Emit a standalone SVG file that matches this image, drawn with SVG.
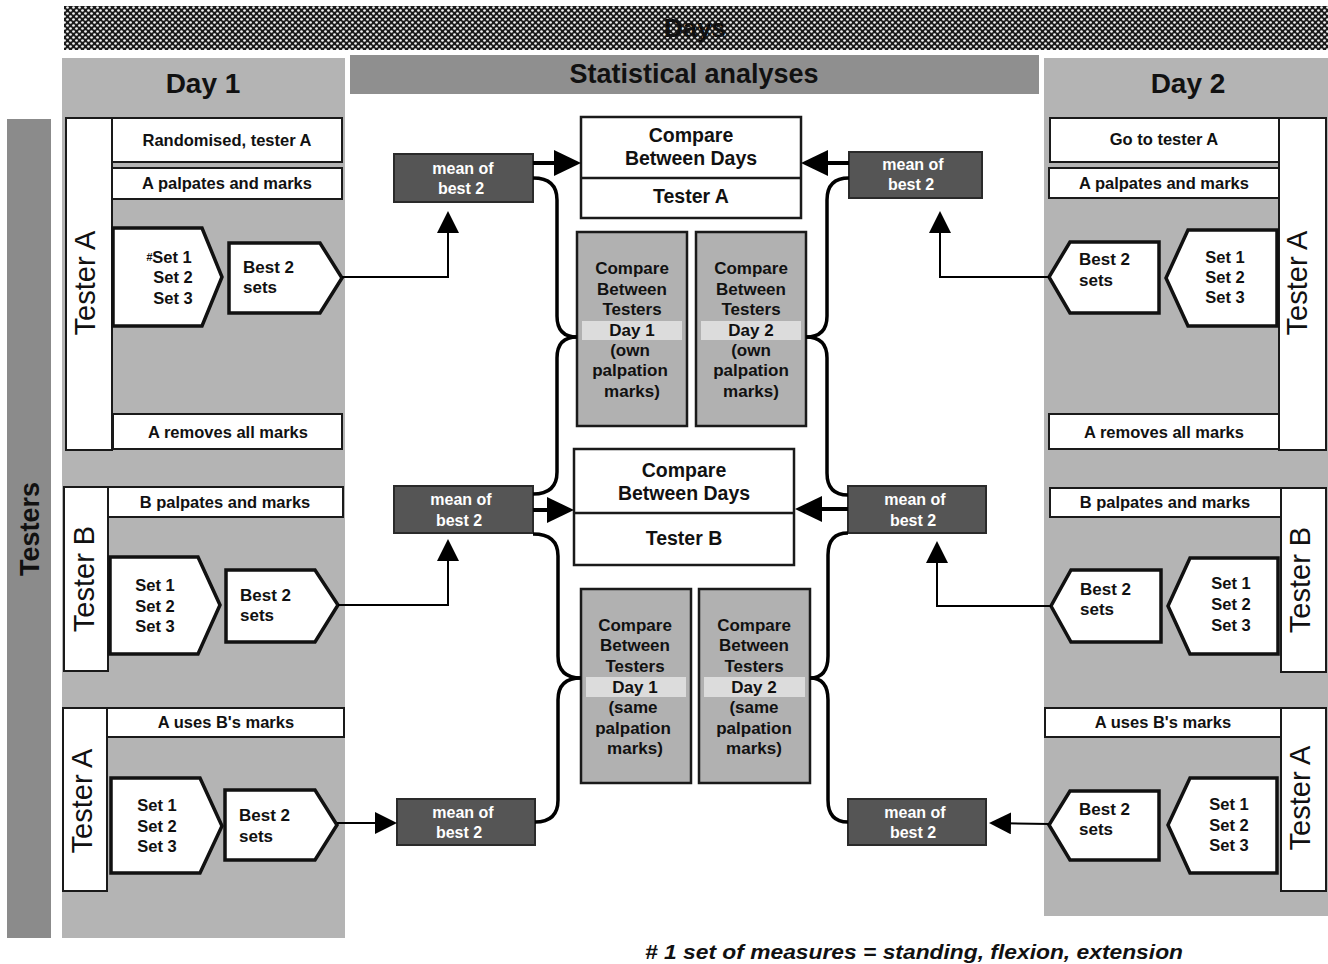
<svg xmlns="http://www.w3.org/2000/svg" width="1328" height="964" viewBox="0 0 1328 964">
<defs>
  <pattern id="mesh" patternUnits="userSpaceOnUse" width="6" height="6">
    <rect width="6" height="6" fill="#1a1a1a"/>
    <circle cx="1.5" cy="1.5" r="1.35" fill="#f2f2f2"/>
    <circle cx="4.5" cy="4.5" r="1.35" fill="#f2f2f2"/>
  </pattern>
  <marker id="ahBig" markerUnits="userSpaceOnUse" markerWidth="27" markerHeight="26" viewBox="0 0 27 26" refX="20" refY="13" orient="auto">
    <path d="M0,0 L27,13 L0,26 z" fill="#000"/>
  </marker>
  <marker id="ah" markerUnits="userSpaceOnUse" markerWidth="22" markerHeight="22" viewBox="0 0 22 22" refX="17" refY="11" orient="auto">
    <path d="M0,0 L22,11 L0,22 z" fill="#000"/>
  </marker>
  <style>
    text { font-family: "Liberation Sans", Arial, sans-serif; fill: #111; }
    .b { font-weight: bold; }
    .box { fill: #fff; stroke: #1a1a1a; stroke-width: 2; }
    .pent { fill: #fff; stroke: #111; stroke-width: 3.5; stroke-linejoin: miter; }
    .mean { fill: #555; stroke: #2a2a2a; stroke-width: 2; }
    .mt { fill: #fff; font-weight: bold; font-size: 16px; text-anchor: middle; }
    .cmp { fill: #fff; stroke: #1a1a1a; stroke-width: 2.5; }
    .gbox { fill: #b1b1b1; stroke: #1a1a1a; stroke-width: 2.5; }
    .band { fill: #dcdcdc; }
    .lbl { font-weight: bold; font-size: 16.5px; text-anchor: middle; }
    .set { font-weight: bold; font-size: 16.5px; text-anchor: middle; }
    .best { font-weight: bold; font-size: 17px; }
    .vt { font-size: 29px; text-anchor: middle; }
    .ct { font-weight: bold; font-size: 19.5px; text-anchor: middle; }
    .gt { font-weight: bold; font-size: 17px; text-anchor: middle; }
    .thick { fill: none; stroke: #000; stroke-width: 4; }
    .brace { fill: none; stroke: #000; stroke-width: 3.5; }
    .thin { fill: none; stroke: #000; stroke-width: 2; }
  </style>
</defs>

<g id="background">
  <rect x="64" y="6" width="1264" height="44" fill="url(#mesh)"/>
  <text x="695" y="37" class="b" font-size="26" text-anchor="middle" fill="#000">Days</text>
  <rect x="62" y="58" width="283" height="880" fill="#b4b4b4"/>
  <text x="203" y="93" class="b" font-size="28" text-anchor="middle">Day 1</text>
  <rect x="350" y="55" width="689" height="39" fill="#8f8f8f"/>
  <text x="694" y="83" class="b" font-size="27" text-anchor="middle">Statistical analyses</text>
  <rect x="1044" y="58" width="284" height="858" fill="#b4b4b4"/>
  <text x="1188" y="93" class="b" font-size="28" text-anchor="middle">Day 2</text>
  <rect x="7" y="119" width="44" height="819" fill="#8b8b8b"/>
  <text transform="translate(29,529) rotate(-90)" class="b" font-size="27" text-anchor="middle" dy="0.36em">Testers</text>
</g>

<!-- Day 1, Tester A -->
<g id="d1-testerA">
  <rect x="66" y="118" width="46" height="332" class="box"/>
  <text transform="translate(85,283) rotate(-90)" class="vt" dy="0.36em">Tester A</text>
  <rect x="112" y="118" width="230" height="44" class="box"/>
  <text x="227" y="140" class="lbl" dominant-baseline="central">Randomised, tester A</text>
  <rect x="112" y="168" width="230" height="31" class="box"/>
  <text x="227" y="183" class="lbl" dominant-baseline="central">A palpates and marks</text>
  <polygon points="113,228 202,228 222,277 202,326 113,326" class="pent"/>
  <text x="173" y="257" class="set" dominant-baseline="central"><tspan font-size="11" font-style="italic" dx="-4">#</tspan>Set 1</text>
  <text x="173" y="277" class="set" dominant-baseline="central">Set 2</text>
  <text x="173" y="298" class="set" dominant-baseline="central">Set 3</text>
  <polygon points="229,243 320,243 342,278 320,313 229,313" class="pent"/>
  <text x="243" y="267" class="best" dominant-baseline="central">Best 2</text>
  <text x="243" y="287" class="best" dominant-baseline="central">sets</text>
  <rect x="113" y="414" width="229" height="35" class="box"/>
  <text x="228" y="432" class="lbl" dominant-baseline="central">A removes all marks</text>
</g>

<!-- Day 1, Tester B -->
<g id="d1-testerB">
  <rect x="64" y="487" width="44" height="184" class="box"/>
  <text transform="translate(84,579) rotate(-90)" class="vt" dy="0.36em">Tester B</text>
  <rect x="108" y="487" width="235" height="30" class="box"/>
  <text x="225" y="502" class="lbl" dominant-baseline="central">B palpates and marks</text>
  <polygon points="110,557 198,557 220,605 198,654 110,654" class="pent"/>
  <text x="155" y="585" class="set" dominant-baseline="central">Set 1</text>
  <text x="155" y="606" class="set" dominant-baseline="central">Set 2</text>
  <text x="155" y="626" class="set" dominant-baseline="central">Set 3</text>
  <polygon points="226,570 315,570 338,605 315,642 226,642" class="pent"/>
  <text x="240" y="595" class="best" dominant-baseline="central">Best 2</text>
  <text x="240" y="615" class="best" dominant-baseline="central">sets</text>
</g>

<!-- Day 1, Tester A with B's marks -->
<g id="d1-testerA2">
  <rect x="63" y="708" width="44" height="183" class="box"/>
  <text transform="translate(82,801) rotate(-90)" class="vt" dy="0.36em">Tester A</text>
  <rect x="107" y="708" width="237" height="29" class="box"/>
  <text x="226" y="722" class="lbl" dominant-baseline="central">A uses B's marks</text>
  <polygon points="111,778 200,778 222,826 200,873 111,873" class="pent"/>
  <text x="157" y="805" class="set" dominant-baseline="central">Set 1</text>
  <text x="157" y="826" class="set" dominant-baseline="central">Set 2</text>
  <text x="157" y="846" class="set" dominant-baseline="central">Set 3</text>
  <polygon points="225,790 315,790 337,825 315,860 225,860" class="pent"/>
  <text x="239" y="815" class="best" dominant-baseline="central">Best 2</text>
  <text x="239" y="836" class="best" dominant-baseline="central">sets</text>
</g>

<!-- Day 2, Tester A -->
<g id="d2-testerA">
  <rect x="1279" y="118" width="47" height="332" class="box"/>
  <text transform="translate(1297,283) rotate(-90)" class="vt" dy="0.36em">Tester A</text>
  <rect x="1050" y="118" width="229" height="44" class="box"/>
  <text x="1164" y="139" class="lbl" dominant-baseline="central">Go to tester A</text>
  <rect x="1049" y="168" width="230" height="30" class="box"/>
  <text x="1164" y="183" class="lbl" dominant-baseline="central">A palpates and marks</text>
  <polygon points="1277,230 1188,230 1166,278 1188,326 1277,326" class="pent"/>
  <text x="1225" y="257" class="set" dominant-baseline="central">Set 1</text>
  <text x="1225" y="277" class="set" dominant-baseline="central">Set 2</text>
  <text x="1225" y="297" class="set" dominant-baseline="central">Set 3</text>
  <polygon points="1159,242 1070,242 1049,277 1070,313 1159,313" class="pent"/>
  <text x="1079" y="259" class="best" dominant-baseline="central">Best 2</text>
  <text x="1079" y="280" class="best" dominant-baseline="central">sets</text>
  <rect x="1049" y="414" width="230" height="35" class="box"/>
  <text x="1164" y="432" class="lbl" dominant-baseline="central">A removes all marks</text>
</g>

<!-- Day 2, Tester B -->
<g id="d2-testerB">
  <rect x="1281" y="488" width="45" height="184" class="box"/>
  <text transform="translate(1300,580) rotate(-90)" class="vt" dy="0.36em">Tester B</text>
  <rect x="1050" y="488" width="231" height="29" class="box"/>
  <text x="1165" y="502" class="lbl" dominant-baseline="central">B palpates and marks</text>
  <polygon points="1278,558 1190,558 1168,606 1190,654 1278,654" class="pent"/>
  <text x="1231" y="583" class="set" dominant-baseline="central">Set 1</text>
  <text x="1231" y="604" class="set" dominant-baseline="central">Set 2</text>
  <text x="1231" y="625" class="set" dominant-baseline="central">Set 3</text>
  <polygon points="1161,570 1071,570 1051,606 1071,642 1161,642" class="pent"/>
  <text x="1080" y="589" class="best" dominant-baseline="central">Best 2</text>
  <text x="1080" y="609" class="best" dominant-baseline="central">sets</text>
</g>

<!-- Day 2, Tester A with B's marks -->
<g id="d2-testerA2">
  <rect x="1281" y="708" width="45" height="183" class="box"/>
  <text transform="translate(1300,798) rotate(-90)" class="vt" dy="0.36em">Tester A</text>
  <rect x="1045" y="708" width="236" height="29" class="box"/>
  <text x="1163" y="722" class="lbl" dominant-baseline="central">A uses B's marks</text>
  <polygon points="1277,778 1190,778 1168,825 1190,873 1277,873" class="pent"/>
  <text x="1229" y="804" class="set" dominant-baseline="central">Set 1</text>
  <text x="1229" y="825" class="set" dominant-baseline="central">Set 2</text>
  <text x="1229" y="845" class="set" dominant-baseline="central">Set 3</text>
  <polygon points="1159,791 1070,791 1049,825 1070,860 1159,860" class="pent"/>
  <text x="1079" y="809" class="best" dominant-baseline="central">Best 2</text>
  <text x="1079" y="829" class="best" dominant-baseline="central">sets</text>
</g>

<!-- mean boxes -->
<g id="mean-d1-A">
  <rect x="394" y="154" width="139" height="48" class="mean"/>
  <text x="463" y="168" class="mt" dominant-baseline="central">mean of</text>
  <text x="461" y="188" class="mt" dominant-baseline="central">best 2</text>
</g>
<g id="mean-d2-A">
  <rect x="849" y="152" width="133" height="46" class="mean"/>
  <text x="913" y="164" class="mt" dominant-baseline="central">mean of</text>
  <text x="911" y="184" class="mt" dominant-baseline="central">best 2</text>
</g>
<g id="mean-d1-B">
  <rect x="394" y="486" width="139" height="47" class="mean"/>
  <text x="461" y="499" class="mt" dominant-baseline="central">mean of</text>
  <text x="459" y="520" class="mt" dominant-baseline="central">best 2</text>
</g>
<g id="mean-d2-B">
  <rect x="848" y="486" width="138" height="47" class="mean"/>
  <text x="915" y="499" class="mt" dominant-baseline="central">mean of</text>
  <text x="913" y="520" class="mt" dominant-baseline="central">best 2</text>
</g>
<g id="mean-d1-A2">
  <rect x="397" y="799" width="138" height="46" class="mean"/>
  <text x="463" y="812" class="mt" dominant-baseline="central">mean of</text>
  <text x="459" y="832" class="mt" dominant-baseline="central">best 2</text>
</g>
<g id="mean-d2-A2">
  <rect x="848" y="799" width="138" height="46" class="mean"/>
  <text x="915" y="812" class="mt" dominant-baseline="central">mean of</text>
  <text x="913" y="832" class="mt" dominant-baseline="central">best 2</text>
</g>

<!-- compare between days -->
<g id="cmp-days-A">
  <rect x="581" y="117" width="220" height="101" class="cmp"/>
  <line x1="581" y1="178" x2="801" y2="178" stroke="#1a1a1a" stroke-width="2.5"/>
  <text x="691" y="135" class="ct" dominant-baseline="central">Compare</text>
  <text x="691" y="158" class="ct" dominant-baseline="central">Between Days</text>
  <text x="691" y="196" class="ct" dominant-baseline="central">Tester A</text>
</g>
<g id="cmp-days-B">
  <rect x="574" y="449" width="220" height="116" class="cmp"/>
  <line x1="574" y1="513" x2="794" y2="513" stroke="#1a1a1a" stroke-width="2.5"/>
  <text x="684" y="470" class="ct" dominant-baseline="central">Compare</text>
  <text x="684" y="493" class="ct" dominant-baseline="central">Between Days</text>
  <text x="684" y="538" class="ct" dominant-baseline="central">Tester B</text>
</g>

<!-- compare between testers -->
<g id="cmp-testers-d1-own">
  <rect x="577" y="232" width="110" height="194" class="gbox"/>
  <rect x="582" y="321" width="100" height="19" class="band"/>
  <text x="632" y="268" class="gt" dominant-baseline="central">Compare</text>
  <text x="632" y="289" class="gt" dominant-baseline="central">Between</text>
  <text x="632" y="309" class="gt" dominant-baseline="central">Testers</text>
  <text x="632" y="330" class="gt" dominant-baseline="central">Day 1</text>
  <text x="630" y="350" class="gt" dominant-baseline="central">(own</text>
  <text x="630" y="370" class="gt" dominant-baseline="central">palpation</text>
  <text x="632" y="391" class="gt" dominant-baseline="central">marks)</text>
</g>
<g id="cmp-testers-d2-own">
  <rect x="696" y="232" width="110" height="194" class="gbox"/>
  <rect x="701" y="321" width="100" height="19" class="band"/>
  <text x="751" y="268" class="gt" dominant-baseline="central">Compare</text>
  <text x="751" y="289" class="gt" dominant-baseline="central">Between</text>
  <text x="751" y="309" class="gt" dominant-baseline="central">Testers</text>
  <text x="751" y="330" class="gt" dominant-baseline="central">Day 2</text>
  <text x="751" y="350" class="gt" dominant-baseline="central">(own</text>
  <text x="751" y="370" class="gt" dominant-baseline="central">palpation</text>
  <text x="751" y="391" class="gt" dominant-baseline="central">marks)</text>
</g>
<g id="cmp-testers-d1-same">
  <rect x="581" y="589" width="110" height="194" class="gbox"/>
  <rect x="586" y="677" width="100" height="20" class="band"/>
  <text x="635" y="625" class="gt" dominant-baseline="central">Compare</text>
  <text x="635" y="645" class="gt" dominant-baseline="central">Between</text>
  <text x="635" y="666" class="gt" dominant-baseline="central">Testers</text>
  <text x="635" y="687" class="gt" dominant-baseline="central">Day 1</text>
  <text x="633" y="707" class="gt" dominant-baseline="central">(same</text>
  <text x="633" y="728" class="gt" dominant-baseline="central">palpation</text>
  <text x="635" y="748" class="gt" dominant-baseline="central">marks)</text>
</g>
<g id="cmp-testers-d2-same">
  <rect x="699" y="589" width="111" height="194" class="gbox"/>
  <rect x="704" y="677" width="101" height="20" class="band"/>
  <text x="754" y="625" class="gt" dominant-baseline="central">Compare</text>
  <text x="754" y="645" class="gt" dominant-baseline="central">Between</text>
  <text x="754" y="666" class="gt" dominant-baseline="central">Testers</text>
  <text x="754" y="687" class="gt" dominant-baseline="central">Day 2</text>
  <text x="754" y="707" class="gt" dominant-baseline="central">(same</text>
  <text x="754" y="728" class="gt" dominant-baseline="central">palpation</text>
  <text x="754" y="748" class="gt" dominant-baseline="central">marks)</text>
</g>

<g id="connectors">
  <!-- best 2 to mean -->
  <path d="M342,277 H448 V216" class="thin" marker-end="url(#ah)"/>
  <path d="M338,605 H448 V544" class="thin" marker-end="url(#ah)"/>
  <path d="M337,823 H392" class="thin" stroke-width="2.5" marker-end="url(#ah)"/>
  <path d="M1049,277 H940 V216" class="thin" marker-end="url(#ah)"/>
  <path d="M1051,606 H937 V546" class="thin" marker-end="url(#ah)"/>
  <path d="M1049,824 L994,823" class="thin" stroke-width="2.5" marker-end="url(#ah)"/>
  <!-- mean to compare between days -->
  <path d="M533,163 H574" class="thick" marker-end="url(#ahBig)"/>
  <path d="M849,163 H808" class="thick" marker-end="url(#ahBig)"/>
  <path d="M533,510 H567" class="thick" marker-end="url(#ahBig)"/>
  <path d="M848,509 H802" class="thick" marker-end="url(#ahBig)"/>
  <!-- braces to compare between testers -->
  <path d="M533,178 Q557,178 557,200 V316 Q557,337 577,337" class="brace"/>
  <path d="M577,337 Q557,337 557,358 V472 Q557,494 533,494" class="brace"/>
  <path d="M533,534 Q558,534 558,556 V656 Q558,678 581,678" class="brace"/>
  <path d="M581,678 Q558,678 558,700 V800 Q558,822 535,822" class="brace"/>
  <path d="M849,178 Q827,178 827,200 V316 Q827,337 806,337" class="brace"/>
  <path d="M806,337 Q827,337 827,358 V473 Q827,495 848,495" class="brace"/>
  <path d="M848,533 Q828,533 828,555 V656 Q828,678 810,678" class="brace"/>
  <path d="M810,678 Q828,678 828,700 V800 Q828,822 848,822" class="brace"/>
</g>

<text x="645" y="959" class="b" font-style="italic" font-size="20.5" textLength="538" lengthAdjust="spacingAndGlyphs"># 1 set of measures = standing, flexion, extension</text>
</svg>
